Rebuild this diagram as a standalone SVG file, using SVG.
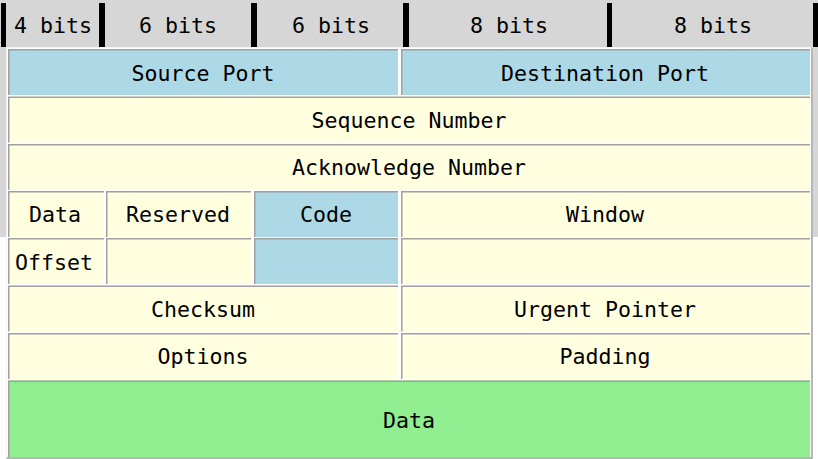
<svg xmlns="http://www.w3.org/2000/svg" width="818" height="459" viewBox="0 0 818 459">
<style>
text{font-family:"DejaVu Sans Mono","Liberation Mono",monospace;font-size:21.6px;fill:#000;text-anchor:middle}
.y{fill:#ffffe0}
.b{fill:#add8e6}
.g{fill:#90ee90}
.bd{fill:none;stroke:#a0a0a0;stroke-width:1.5}
.bar{fill:#000}
</style>
<rect x="0" y="0" width="818" height="459" fill="#ffffff"/>
<rect x="0" y="0" width="818" height="237" fill="#d6d6d6"/>
<g id="header">
<rect class="bar" x="1" y="3" width="5" height="44"/>
<rect class="bar" x="99" y="3" width="6" height="44"/>
<rect class="bar" x="251" y="3" width="6" height="44"/>
<rect class="bar" x="403" y="3" width="6" height="44"/>
<rect class="bar" x="607" y="3" width="5" height="44"/>
<rect class="bar" x="813" y="3" width="5" height="44"/>
<text x="53" y="33">4 bits</text>
<text x="178" y="33">6 bits</text>
<text x="331" y="33">6 bits</text>
<text x="509" y="33">8 bits</text>
<text x="713" y="33">8 bits</text>
</g>
<g id="table">
<rect x="6" y="47" width="807" height="412" fill="#ffffff"/>
<path d="M6.5,459 V47.5 H812" fill="none" stroke="#f4f4f4" stroke-width="1"/>
<path d="M812,47.5 V458 H6.5" fill="none" stroke="#a0a0a0" stroke-width="1.5"/>
</g>
<g id="source-port"><rect class="b" x="8" y="49" width="390" height="46"/><path class="bd" d="M8.75,95 V49.75 H398"/><text x="203" y="81">Source Port</text></g>
<g id="destination-port"><rect class="b" x="401" y="49" width="409" height="46"/><path class="bd" d="M401.75,95 V49.75 H810"/><text x="605" y="81">Destination Port</text></g>
<g id="sequence-number"><rect class="y" x="8" y="96.5" width="802" height="46"/><path class="bd" d="M8.75,142.5 V97.25 H810"/><text x="409" y="128">Sequence Number</text></g>
<g id="acknowledge-number"><rect class="y" x="8" y="144" width="802" height="46"/><path class="bd" d="M8.75,190 V144.75 H810"/><text x="409" y="175">Acknowledge Number</text></g>
<g id="data-offset-1"><rect class="y" x="8" y="191" width="96" height="46"/><path class="bd" d="M8.75,237 V191.75 H104"/><text x="55" y="222">Data</text></g>
<g id="reserved"><rect class="y" x="106" y="191" width="145" height="46"/><path class="bd" d="M106.75,237 V191.75 H251"/><text x="178" y="222">Reserved</text></g>
<g id="code"><rect class="b" x="254" y="191" width="144" height="46"/><path class="bd" d="M254.75,237 V191.75 H398"/><text x="326" y="222">Code</text></g>
<g id="window"><rect class="y" x="401" y="191" width="409" height="46"/><path class="bd" d="M401.75,237 V191.75 H810"/><text x="605" y="222">Window</text></g>
<g id="data-offset-2"><rect class="y" x="8" y="238" width="96" height="46"/><path class="bd" d="M8.75,284 V238.75 H104"/><text x="54" y="270">Offset</text></g>
<g id="reserved-2"><rect class="y" x="106" y="238" width="145" height="46"/><path class="bd" d="M106.75,284 V238.75 H251"/></g>
<g id="code-2"><rect class="b" x="254" y="238" width="144" height="46"/><path class="bd" d="M254.75,284 V238.75 H398"/></g>
<g id="window-2"><rect class="y" x="401" y="238" width="409" height="46"/><path class="bd" d="M401.75,284 V238.75 H810"/></g>
<g id="checksum"><rect class="y" x="8" y="285.5" width="390" height="46"/><path class="bd" d="M8.75,331.5 V286.25 H398"/><text x="203" y="317">Checksum</text></g>
<g id="urgent-pointer"><rect class="y" x="401" y="285.5" width="409" height="46"/><path class="bd" d="M401.75,331.5 V286.25 H810"/><text x="605" y="317">Urgent Pointer</text></g>
<g id="options"><rect class="y" x="8" y="333" width="390" height="46"/><path class="bd" d="M8.75,379 V333.75 H398"/><text x="203" y="364">Options</text></g>
<g id="padding"><rect class="y" x="401" y="333" width="409" height="46"/><path class="bd" d="M401.75,379 V333.75 H810"/><text x="605" y="364">Padding</text></g>
<g id="data"><rect class="g" x="8" y="380.5" width="802" height="76.5"/><path class="bd" d="M8.75,457 V381.25 H810"/><text x="409" y="428">Data</text></g>
<g id="connectors"/>
</svg>
